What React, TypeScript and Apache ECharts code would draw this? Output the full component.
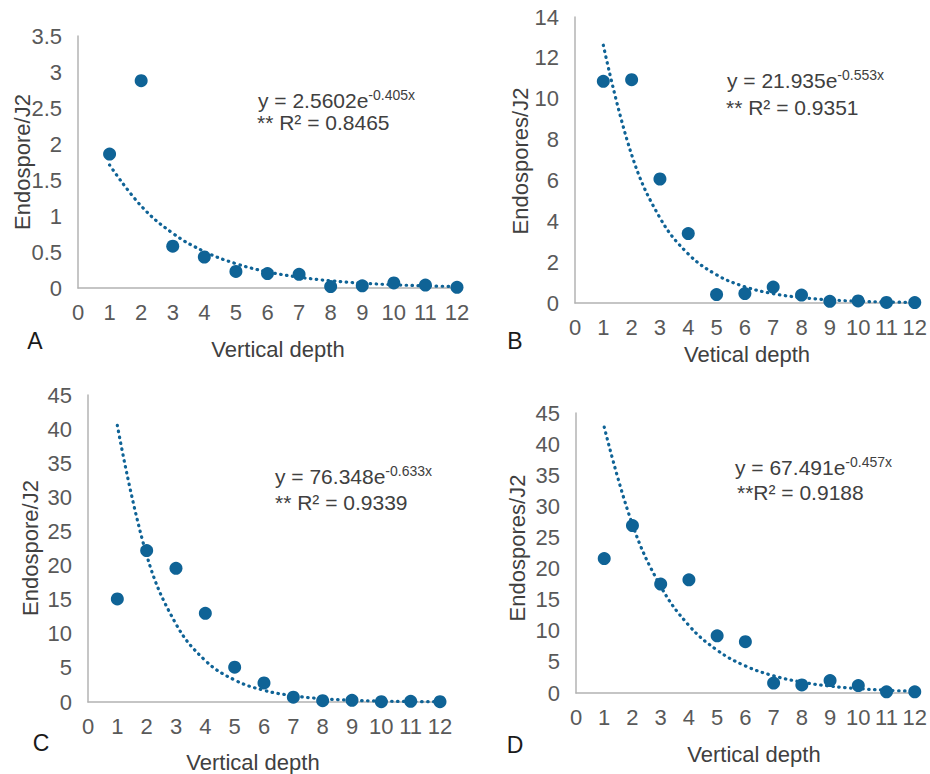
import React, { useEffect, useRef } from "react";
import * as echarts from "echarts";

// Vertical depth (x) shared by all panels
const depths = [1, 2, 3, 4, 5, 6, 7, 8, 9, 10, 11, 12];

// Panel A: Endospore/J2
const valuesA = [1.86, 2.88, 0.58, 0.43, 0.23, 0.2, 0.19, 0.02, 0.03, 0.07, 0.04, 0.01];
const trendA = [1.708, 1.139, 0.76, 0.507, 0.338, 0.225, 0.15, 0.1, 0.067, 0.045, 0.03, 0.02];
// Panel B: Endospores/J2
const valuesB = [10.85, 10.93, 6.07, 3.4, 0.41, 0.46, 0.78, 0.39, 0.08, 0.1, 0.03, 0.02];
const trendB = [12.62, 7.26, 4.17, 2.4, 1.38, 0.795, 0.457, 0.263, 0.151, 0.087, 0.05, 0.029];
// Panel C: Endospore/J2
const valuesC = [15.1, 22.2, 19.6, 13.0, 5.1, 2.8, 0.7, 0.2, 0.25, 0.05, 0.1, 0.05];
const trendC = [40.54, 21.53, 11.43, 6.07, 3.22, 1.71, 0.909, 0.483, 0.256, 0.136, 0.072, 0.038];
// Panel D: Endospores/J2
const valuesD = [21.6, 26.9, 17.5, 18.2, 9.2, 8.25, 1.6, 1.3, 2.0, 1.2, 0.2, 0.2];
const trendD = [42.74, 27.06, 17.14, 10.85, 6.87, 4.35, 2.76, 1.745, 1.105, 0.7, 0.443, 0.281];

const yMax = [3.5, 14, 45, 45];
const yStep = [0.5, 2, 5, 5];
const yTitles = ["Endospore/J2", "Endospores/J2", "Endospore/J2", "Endospores/J2"];
const xTitles = ["Vertical depth", "Vetical depth", "Vertical depth", "Vertical depth"];
const panelLetters = ["A", "B", "C", "D"];
const eqMain = ["y = 2.5602e", "y = 21.935e", "y = 76.348e", "y = 67.491e"];
const eqExp = ["-0.405x", "-0.553x", "-0.633x", "-0.457x"];
const eqR2 = ["** R² = 0.8465", "** R² = 0.9351", "** R² = 0.9339", "**R² = 0.9188"];

const FONT = "'Liberation Sans', Arial, sans-serif";
const BLUE = "#0f6396";
const AXIS = "#b3b3b3";
const TICK = "#595959";
const TITLE = "#404040";

// layout (pixels)
const grids = [
  { left: 78, top: 36, width: 379, height: 252 },
  { left: 575, top: 17, width: 344, height: 286 },
  { left: 88, top: 395, width: 352, height: 307 },
  { left: 576, top: 413, width: 343, height: 280 },
];
const yTitlePos = [[22, 162], [520, 161], [30, 548], [517, 548]];
const xTitlePos = [[278, 349], [747, 354], [253, 762], [754, 754]];
const letterPos = [[35, 341], [515, 341], [41, 743], [515, 745]];
const eqPos = [[258, 100, 257, 122], [727, 80, 726, 107], [275, 476, 275, 502], [735, 467, 737, 492]];

export default function App() {
  const ref = useRef<HTMLDivElement>(null);
  useEffect(() => {
    document.body.style.margin = "0";
    const chart = echarts.init(ref.current!, null, { renderer: "svg" });
    const vals = [valuesA, valuesB, valuesC, valuesD];
    const trends = [trendA, trendB, trendC, trendD];

    const xAxis: any[] = [];
    const yAxis: any[] = [];
    const series: any[] = [];
    const graphic: any[] = [];

    for (let i = 0; i < 4; i++) {
      xAxis.push({
        type: "value",
        gridIndex: i,
        min: 0,
        max: 12,
        interval: 1,
        axisLine: { show: true, lineStyle: { color: AXIS, width: 1.5 } },
        axisTick: { show: false },
        splitLine: { show: false },
        axisLabel: { color: TICK, fontSize: 22, fontFamily: FONT, margin: 13 },
      });
      yAxis.push({
        type: "value",
        gridIndex: i,
        min: 0,
        max: yMax[i],
        interval: yStep[i],
        axisLine: { show: true, lineStyle: { color: AXIS, width: 1.5 } },
        axisTick: { show: false },
        splitLine: { show: false },
        axisLabel: { color: TICK, fontSize: 22, fontFamily: FONT, margin: 16 },
      });
      series.push({
        type: "line",
        xAxisIndex: i,
        yAxisIndex: i,
        data: depths.map((d, k) => [d, trends[i][k]]),
        smooth: 0.4,
        symbol: "none",
        clip: false,
        lineStyle: { color: BLUE, width: 3.2, type: [0.5, 5.5], cap: "round" },
        z: 2,
      });
      series.push({
        type: "scatter",
        xAxisIndex: i,
        yAxisIndex: i,
        data: depths.map((d, k) => [d, vals[i][k]]),
        symbol: "circle",
        symbolSize: 13,
        clip: false,
        itemStyle: { color: BLUE, opacity: 1 },
        z: 3,
      });
      graphic.push({
        type: "text",
        x: yTitlePos[i][0],
        y: yTitlePos[i][1],
        rotation: Math.PI / 2,
        style: { text: yTitles[i], fontSize: 22, fontFamily: FONT, fill: TITLE, align: "center", verticalAlign: "middle" },
      });
      graphic.push({
        type: "text",
        x: xTitlePos[i][0],
        y: xTitlePos[i][1],
        style: { text: xTitles[i], fontSize: 22, fontFamily: FONT, fill: TITLE, align: "center", verticalAlign: "middle" },
      });
      graphic.push({
        type: "text",
        x: letterPos[i][0],
        y: letterPos[i][1],
        style: { text: panelLetters[i], fontSize: 23, fontFamily: FONT, fill: "#1a1a1a", align: "center", verticalAlign: "middle" },
      });
      graphic.push({
        type: "text",
        x: eqPos[i][0],
        y: eqPos[i][1],
        style: {
          text: "{m|" + eqMain[i] + "}{s|" + eqExp[i] + "}",
          align: "left",
          verticalAlign: "middle",
          fill: TITLE,
          rich: {
            m: { fontSize: 21, fontFamily: FONT, fill: TITLE, lineHeight: 24 },
            s: { fontSize: 14, fontFamily: FONT, fill: TITLE, lineHeight: 12, verticalAlign: "top" },
          },
        },
      });
      graphic.push({
        type: "text",
        x: eqPos[i][2],
        y: eqPos[i][3],
        style: { text: eqR2[i], fontSize: 21, fontFamily: FONT, fill: TITLE, align: "left", verticalAlign: "middle" },
      });
    }

    chart.setOption({
      animation: false,
      backgroundColor: "#ffffff",
      grid: grids.map((g) => ({ ...g, containLabel: false })),
      xAxis,
      yAxis,
      series,
      graphic,
    });
    return () => chart.dispose();
  }, []);
  return <div ref={ref} style={{ width: 930, height: 774 }} />;
}
